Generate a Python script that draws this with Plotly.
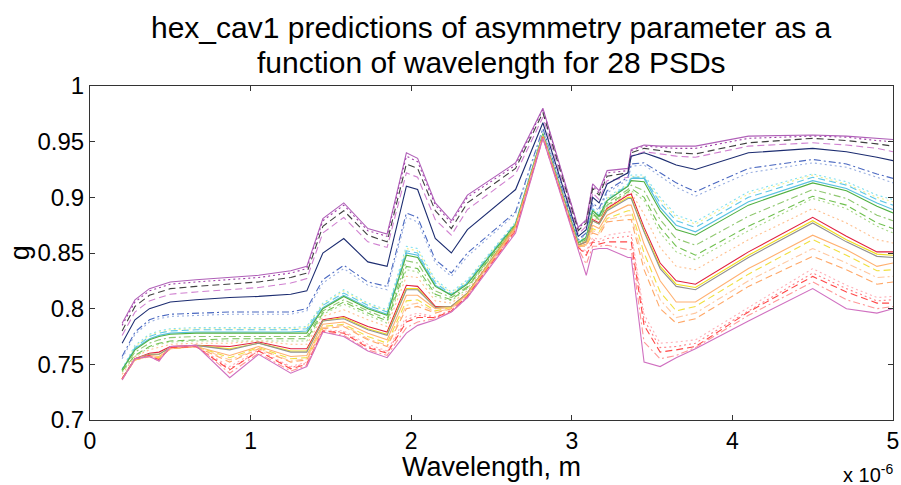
import plotly.graph_objects as go

wavelength_um = [0.20, 0.28, 0.37, 0.43, 0.50, 0.66, 0.87, 1.05, 1.25, 1.35,
                 1.45, 1.58, 1.73, 1.85, 1.97, 2.04, 2.15, 2.25, 2.35, 2.65, 2.82,
                 3.04, 3.09, 3.13, 3.17, 3.22, 3.35, 3.37, 3.45, 3.55, 3.65, 3.77,
                 4.10, 4.50, 4.71, 4.90, 5.00]

g01 = [.787,.808,.818,.821,.824,.826,.828,.830,.834,.838, .881,.895,.872,.867,.940,.935,.895,.879,.902,.931,.980, .873,.880,.912,.906,.924,.926,.943,.947,.946,.946,.946,.955,.956,.955,.953,.952]
g02 = [.785,.806,.816,.819,.822,.824,.826,.828,.832,.836, .879,.893,.870,.865,.937,.932,.893,.877,.900,.929,.979, .872,.879,.910,.904,.922,.924,.942,.946,.945,.944,.944,.953,.955,.954,.951,.950]
g03 = [.780,.802,.812,.815,.818,.820,.822,.824,.828,.832, .874,.888,.866,.860,.930,.926,.888,.872,.895,.926,.976, .870,.877,.908,.902,.919,.922,.940,.944,.942,.940,.939,.949,.953,.951,.948,.946]
g04 = [.776,.797,.807,.810,.813,.815,.817,.819,.823,.827, .868,.882,.860,.855,.922,.918,.880,.866,.889,.921,.972, .867,.874,.904,.898,.915,.918,.937,.941,.939,.937,.936,.946,.949,.947,.944,.941]
g05 = [.769,.790,.800,.803,.806,.808,.810,.811,.813,.816, .850,.863,.842,.838,.910,.907,.863,.850,.871,.907,.967, .865,.871,.900,.895,.912,.922,.937,.940,.935,.929,.925,.940,.944,.941,.936,.933]
g06 = [.757,.779,.790,.793,.795,.796,.797,.797,.797,.800, .826,.839,.824,.820,.886,.882,.844,.832,.850,.887,.962, .862,.868,.895,.890,.906,.918,.930,.931,.922,.913,.905,.926,.934,.930,.921,.917]
g07 = [.755,.777,.788,.791,.793,.794,.795,.795,.795,.798, .823,.836,.821,.817,.882,.878,.841,.829,.847,.885,.961, .861,.867,.893,.888,.904,.916,.928,.929,.919,.909,.901,.922,.931,.927,.918,.913]
g08 = [.746,.767,.777,.780,.782,.783,.783,.783,.783,.784, .805,.817,.805,.799,.856,.854,.826,.815,.826,.878,.958, .860,.865,.890,.885,.900,.912,.920,.920,.900,.884,.878,.905,.921,.914,.902,.898]
g09 = [.745,.766,.776,.779,.781,.782,.782,.782,.782,.783, .804,.816,.804,.798,.854,.852,.825,.814,.825,.877,.958, .860,.865,.889,.884,.899,.911,.919,.918,.898,.882,.876,.903,.920,.912,.900,.896]
g10 = [.745,.765,.775,.778,.780,.781,.781,.781,.781,.782, .803,.814,.803,.797,.852,.850,.823,.813,.824,.877,.957, .859,.864,.889,.884,.898,.911,.918,.918,.895,.879,.873,.900,.918,.911,.898,.893]
g11 = [.745,.764,.773,.776,.778,.779,.779,.779,.779,.780, .801,.812,.801,.795,.850,.848,.821,.812,.823,.876,.957, .859,.864,.888,.883,.897,.910,.917,.917,.891,.875,.869,.896,.915,.908,.895,.889]
g12 = [.745,.763,.772,.775,.777,.778,.778,.778,.778,.778, .800,.811,.800,.794,.848,.846,.820,.812,.822,.876,.957, .859,.864,.888,.883,.897,.910,.915,.914,.888,.871,.866,.893,.913,.906,.892,.886]
g13 = [.744,.761,.769,.772,.774,.775,.775,.775,.775,.775, .798,.808,.798,.791,.843,.841,.816,.810,.820,.875,.956, .858,.863,.886,.881,.895,.907,.911,.906,.880,.863,.857,.883,.907,.899,.884,.879]
g14 = [.744,.758,.766,.769,.771,.772,.773,.773,.773,.773, .796,.806,.796,.789,.838,.836,.813,.808,.819,.875,.956, .858,.862,.885,.880,.893,.905,.908,.900,.873,.856,.848,.874,.901,.893,.877,.872]
g15 = [.743,.757,.765,.768,.770,.771,.771,.771,.771,.771, .795,.804,.794,.787,.835,.833,.811,.807,.818,.875,.956, .858,.862,.884,.879,.892,.904,.906,.897,.868,.851,.844,.870,.899,.890,.874,.868]
g16 = [.741,.757,.763,.765,.768,.769,.769,.771,.768,.768, .793,.799,.790,.784,.829,.828,.807,.805,.816,.874,.956, .857,.861,.882,.878,.891,.903,.904,.885,.855,.838,.835,.862,.890,.877,.862,.859]
g17 = [.737,.755,.760,.761,.766,.767,.766,.770,.764,.764, .790,.793,.784,.779,.821,.820,.802,.802,.814,.874,.955, .857,.860,.880,.877,.890,.902,.903,.873,.841,.825,.822,.851,.882,.865,.851,.851]
g18 = [.737,.755,.759,.759,.765,.767,.764,.769,.762,.762, .789,.792,.782,.777,.818,.818,.801,.802,.814,.874,.955, .857,.860,.879,.876,.889,.900,.900,.870,.838,.822,.819,.848,.879,.862,.849,.848]
g19 = [.737,.755,.759,.759,.765,.767,.763,.769,.761,.761, .789,.791,.781,.776,.817,.817,.801,.802,.814,.873,.955, .857,.860,.879,.876,.888,.899,.899,.869,.836,.820,.817,.846,.877,.860,.847,.846]
g20 = [.737,.754,.758,.757,.764,.766,.758,.766,.757,.758, .786,.788,.778,.772,.812,.812,.800,.801,.813,.873,.955, .856,.858,.875,.872,.884,.893,.893,.858,.825,.806,.806,.836,.866,.853,.838,.841]
g21 = [.737,.754,.757,.756,.764,.766,.756,.765,.755,.756, .784,.786,.775,.769,.807,.808,.798,.801,.813,.872,.954, .856,.857,.872,.869,.881,.888,.888,.850,.815,.798,.802,.831,.862,.848,.834,.835]
g22 = [.737,.754,.757,.755,.764,.766,.754,.764,.753,.755, .783,.785,.773,.767,.803,.805,.797,.800,.812,.872,.954, .856,.857,.870,.868,.880,.884,.884,.842,.808,.792,.796,.825,.854,.841,.828,.829]
g23 = [.737,.754,.757,.755,.764,.766,.752,.764,.752,.754, .782,.784,.772,.766,.800,.802,.796,.800,.812,.872,.954, .856,.856,.868,.866,.878,.880,.880,.835,.800,.787,.791,.820,.847,.835,.822,.824]
g24 = [.737,.755,.758,.754,.765,.766,.748,.763,.748,.752, .781,.780,.768,.762,.793,.796,.793,.799,.811,.871,.954, .855,.852,.864,.862,.866,.869,.869,.795,.769,.770,.772,.801,.836,.821,.810,.811]
g25 = [.737,.755,.758,.754,.765,.766,.746,.762,.747,.751, .780,.779,.766,.761,.790,.794,.792,.798,.811,.871,.954, .855,.850,.862,.860,.863,.865,.865,.790,.765,.766,.769,.798,.832,.818,.807,.808]
g26 = [.737,.755,.758,.754,.765,.766,.745,.762,.746,.750, .780,.778,.765,.760,.788,.792,.792,.798,.811,.870,.954, .855,.848,.860,.858,.860,.860,.860,.785,.761,.763,.766,.797,.829,.815,.805,.805]
g27 = [.736,.755,.757,.753,.766,.767,.742,.760,.744,.749, .779,.776,.763,.758,.783,.788,.791,.797,.810,.869,.953, .854,.840,.856,.856,.857,.853,.853,.770,.755,.758,.765,.794,.824,.808,.800,.802]
g28 = [.736,.755,.757,.753,.766,.767,.738,.759,.742,.748, .779,.775,.762,.756,.778,.785,.790,.797,.810,.868,.953, .852,.830,.853,.854,.854,.846,.846,.752,.748,.756,.764,.789,.818,.800,.796,.800]

psd_series = [g01, g02, g03, g04, g05, g06, g07, g08, g09, g10, g11, g12, g13, g14,
              g15, g16, g17, g18, g19, g20, g21, g22, g23, g24, g25, g26, g27, g28]

line_colors = ["#b060b8", "#a040a8", "#404040", "#d080d0", "#1c2c70", "#4a68c0", "#98aee0",
               "#80e0f0", "#f0f090", "#60c8e8", "#58c0e0", "#50b040", "#90c870", "#70c050",
               "#a8d888", "#ffc090", "#e02040", "#f0e020", "#909090", "#ffb070", "#f0e040",
               "#ffc8a0", "#ffa868", "#ffb0b8", "#ff8088", "#ff4848", "#ff9898", "#d070c0"]
line_dashes = ["solid", "2px,3px", "7px,4px", "7px,4px", "solid", "7px,3px,2px,3px", "2px,3px",
               "2px,3px", "2px,3px", "7px,4px", "solid", "solid", "7px,3px,2px,3px", "7px,4px",
               "2px,3px", "2px,3px", "solid", "solid", "solid", "solid", "7px,4px",
               "7px,3px,2px,3px", "7px,4px", "2px,3px", "2px,3px", "7px,4px", "7px,3px,2px,3px", "solid"]

x_tick_vals = [0, 1, 2, 3, 4, 5]
y_tick_vals = [0.7, 0.75, 0.8, 0.85, 0.9, 0.95, 1.0]
y_tick_text = ["0.7", "0.75", "0.8", "0.85", "0.9", "0.95", "1"]

title_lines = ["hex_cav1 predictions of asymmetry parameter as a",
               "function of wavelength for 28 PSDs"]

x_m = [w * 1e-6 for w in wavelength_um]

fig = go.Figure()
for i, ser in enumerate(psd_series):
    fig.add_trace(go.Scatter(
        x=x_m, y=ser, mode="lines",
        line=dict(color=line_colors[i], dash=line_dashes[i], width=1.1),
        showlegend=False, hoverinfo="skip"))

font_family = "Liberation Sans, Arial, sans-serif"
axis_common = dict(showline=True, linecolor="#333333", linewidth=1, mirror="ticks",
                   ticks="inside", ticklen=5, tickcolor="#333333", showgrid=False,
                   zeroline=False, automargin=False)

fig.update_layout(
    width=901, height=485,
    paper_bgcolor="white", plot_bgcolor="white",
    margin=dict(l=90, r=8, t=86, b=65),
    xaxis=dict(range=[0, 5e-6], tickvals=[v * 1e-6 for v in x_tick_vals],
               ticktext=[str(v) for v in x_tick_vals], ticklabelstandoff=0,
               tickfont=dict(family=font_family, size=23, color="black"), **axis_common),
    yaxis=dict(range=[0.7, 1.0], tickvals=y_tick_vals, ticktext=y_tick_text,
               tickfont=dict(family=font_family, size=24, color="black"), **axis_common),
    annotations=[
        dict(text=title_lines[0], xref="paper", yref="paper", x=0.5, y=1.175,
             xanchor="center", yanchor="middle", showarrow=False,
             font=dict(family=font_family, size=30, color="black")),
        dict(text=title_lines[1], xref="paper", yref="paper", x=0.5, y=1.07,
             xanchor="center", yanchor="middle", showarrow=False,
             font=dict(family=font_family, size=30, color="black")),
        dict(text="Wavelength, m", xref="paper", yref="paper", x=0.5, y=-0.193,
             xanchor="center", yanchor="bottom", showarrow=False,
             font=dict(family=font_family, size=27, color="black")),
        dict(text="x 10<sup>-6</sup>", xref="paper", yref="paper", x=1.003, y=-0.16,
             xanchor="right", yanchor="middle", showarrow=False,
             font=dict(family=font_family, size=20, color="black")),
        dict(text="g", xref="paper", yref="paper", x=-0.087, y=0.5, textangle=-90,
             xanchor="center", yanchor="middle", showarrow=False,
             font=dict(family=font_family, size=27, color="black")),
    ],
)

fig.write_html("out.html", config={"displayModeBar": False},
               post_script="document.body.style.margin='0';")
